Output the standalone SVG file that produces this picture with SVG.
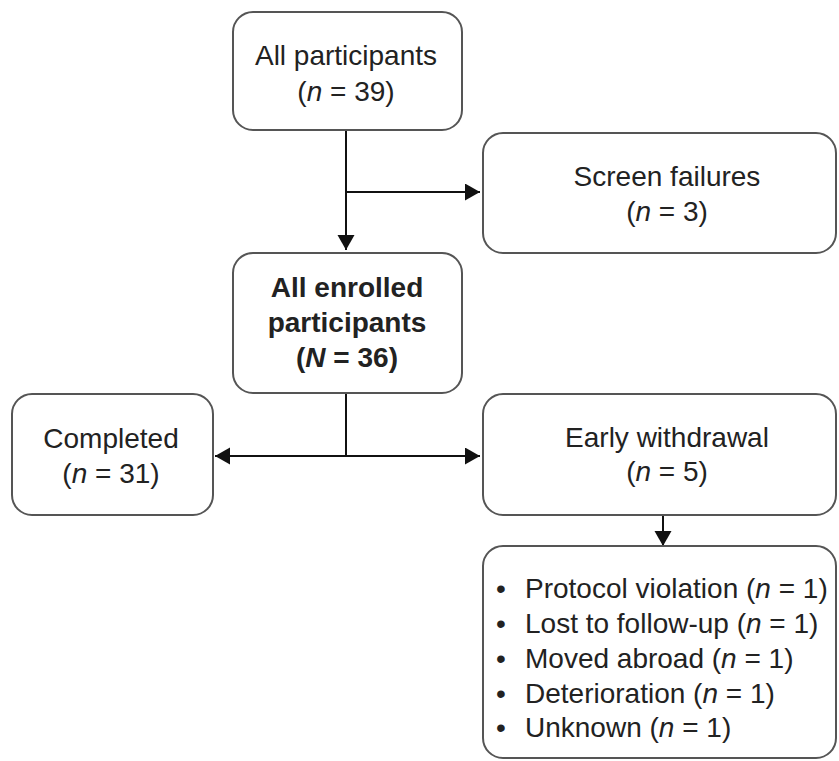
<svg xmlns="http://www.w3.org/2000/svg" width="839" height="761" viewBox="0 0 839 761">
<style>
.box{fill:#fff;stroke:#555;stroke-width:2}
.t{font-family:"Liberation Sans",Arial,sans-serif;font-size:28px;fill:#222;text-anchor:middle}
.l{font-family:"Liberation Sans",Arial,sans-serif;font-size:28px;fill:#222}
.b{font-weight:bold}
.i{font-style:italic}
.c{fill:none;stroke:#111;stroke-width:2}
</style>
<defs>
<marker id="ah" markerUnits="userSpaceOnUse" markerWidth="16" markerHeight="18" refX="15" refY="8.5" orient="auto">
<path d="M0,0 L15,8.5 L0,17 z" fill="#111"/>
</marker>
</defs>
<rect width="839" height="761" fill="#fff"/>
<g id="connectors">
<path class="c" d="M346,131 V250" marker-end="url(#ah)"/>
<path class="c" d="M346,192 H480" marker-end="url(#ah)"/>
<path class="c" d="M346,394 V456"/>
<path class="c" d="M346,456 H215" marker-end="url(#ah)"/>
<path class="c" d="M346,456 H480" marker-end="url(#ah)"/>
<path class="c" d="M663,516 V546" marker-end="url(#ah)"/>
</g>
<g id="all-participants">
<rect class="box" x="233" y="12" width="229" height="118" rx="20"/>
<text class="t" x="346" y="65">All participants</text>
<text class="t" x="346" y="101">(<tspan class="i">n</tspan> = 39)</text>
</g>
<g id="screen-failures">
<rect class="box" x="483" y="133" width="353" height="120" rx="20"/>
<text class="t" x="667" y="186">Screen failures</text>
<text class="t" x="667" y="221">(<tspan class="i">n</tspan> = 3)</text>
</g>
<g id="all-enrolled">
<rect class="box" x="233" y="253" width="229" height="140" rx="20"/>
<text class="t b" x="347" y="297">All enrolled</text>
<text class="t b" x="347" y="332">participants</text>
<text class="t b" x="347" y="367">(<tspan class="i">N</tspan> = 36)</text>
</g>
<g id="completed">
<rect class="box" x="12" y="394" width="201" height="121" rx="20"/>
<text class="t" x="111" y="448">Completed</text>
<text class="t" x="111" y="483">(<tspan class="i">n</tspan> = 31)</text>
</g>
<g id="early-withdrawal">
<rect class="box" x="483" y="394" width="353" height="121" rx="20"/>
<text class="t" x="667" y="447">Early withdrawal</text>
<text class="t" x="667" y="481">(<tspan class="i">n</tspan> = 5)</text>
</g>
<g id="reasons">
<rect class="box" x="483" y="546" width="353" height="212" rx="20"/>
<text class="l" x="496" y="598">•</text><text class="l" x="525" y="598">Protocol violation (<tspan class="i">n</tspan> = 1)</text>
<text class="l" x="496" y="633">•</text><text class="l" x="525" y="633">Lost to follow-up (<tspan class="i">n</tspan> = 1)</text>
<text class="l" x="496" y="668">•</text><text class="l" x="525" y="668">Moved abroad (<tspan class="i">n</tspan> = 1)</text>
<text class="l" x="496" y="703">•</text><text class="l" x="525" y="703">Deterioration (<tspan class="i">n</tspan> = 1)</text>
<text class="l" x="496" y="737">•</text><text class="l" x="525" y="737">Unknown (<tspan class="i">n</tspan> = 1)</text>
</g>
</svg>
